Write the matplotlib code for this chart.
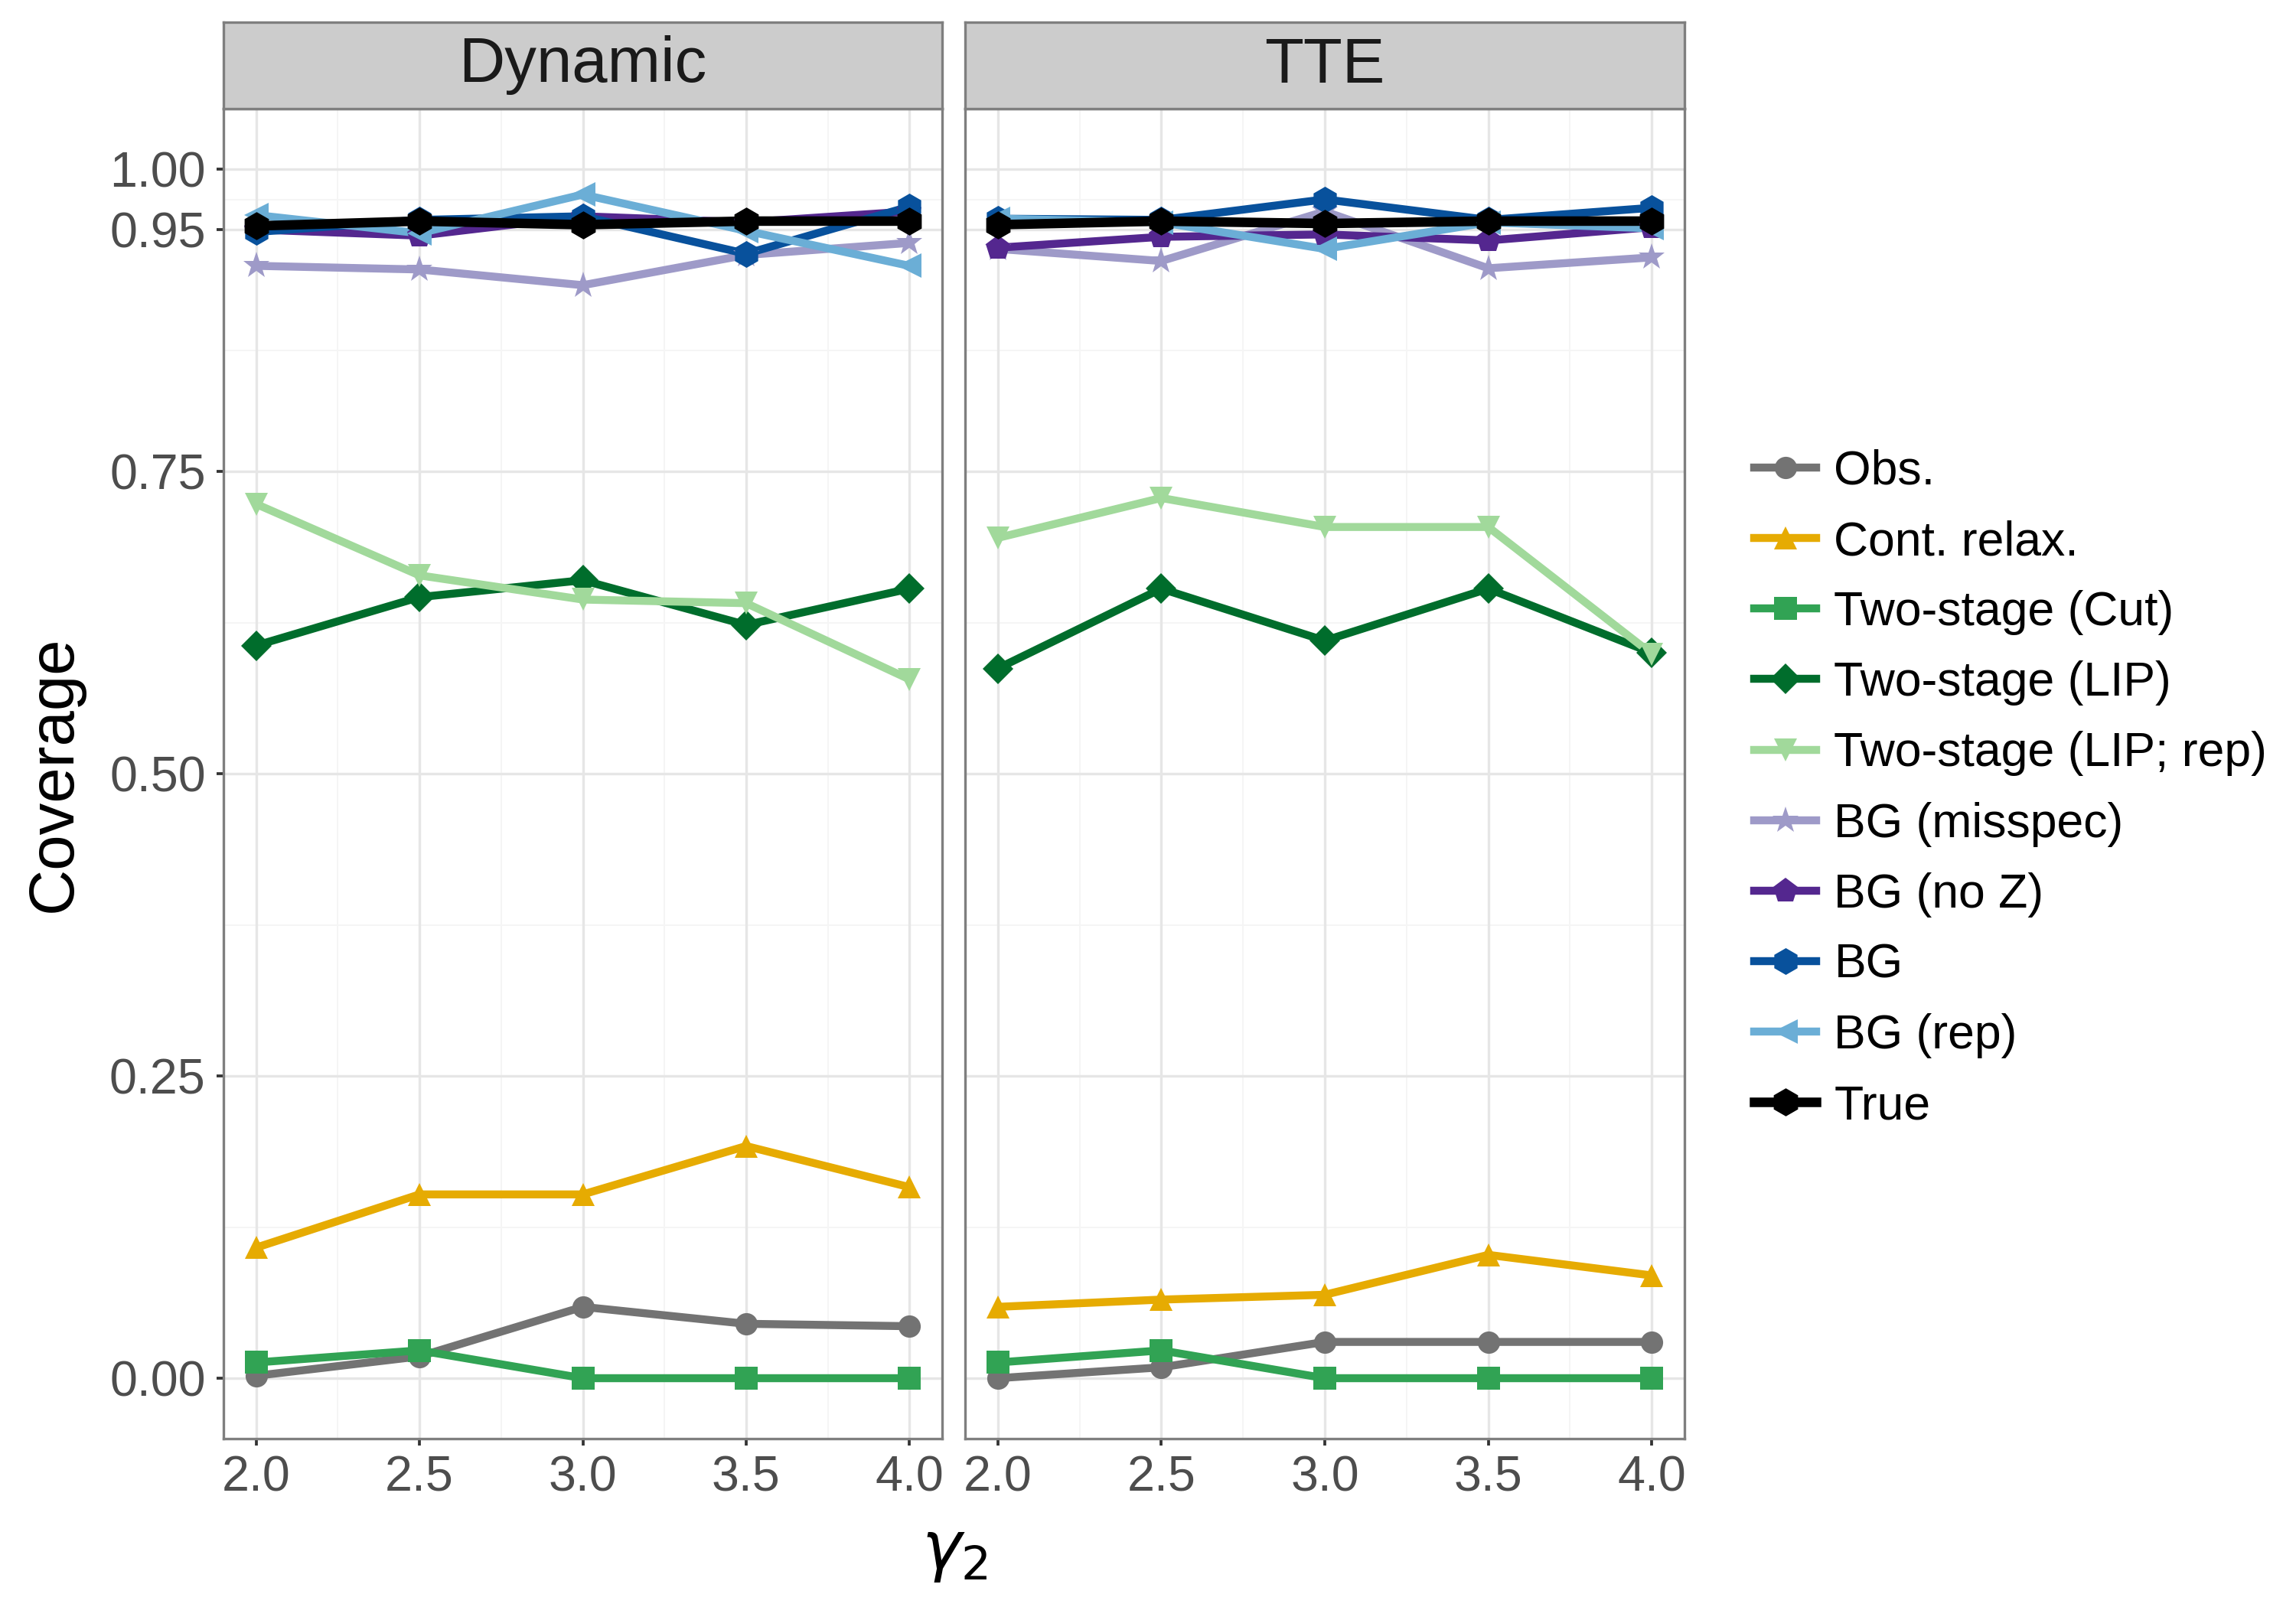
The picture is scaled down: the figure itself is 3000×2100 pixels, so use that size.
import matplotlib
matplotlib.use('Agg')
import matplotlib.pyplot as plt
from matplotlib.lines import Line2D

plt.rcParams['font.family'] = ['Liberation Sans', 'DejaVu Sans']
plt.rcParams['mathtext.fontset'] = 'dejavusans'

# ---------------- data ----------------
gamma2 = [2.0, 2.5, 3.0, 3.5, 4.0]
panels = ["Dynamic", "TTE"]

methods = ["Obs.", "Cont. relax.", "Two-stage (Cut)", "Two-stage (LIP)",
           "Two-stage (LIP; rep)", "BG (misspec)", "BG (no Z)", "BG",
           "BG (rep)", "True"]

obs_dyn      = [0.002, 0.018, 0.059, 0.045, 0.043]
cont_dyn     = [0.108, 0.152, 0.152, 0.192, 0.158]
cut_dyn      = [0.013, 0.023, 0.000, 0.000, 0.000]
lip_dyn      = [0.606, 0.646, 0.660, 0.623, 0.653]
liprep_dyn   = [0.723, 0.664, 0.644, 0.641, 0.578]
misspec_dyn  = [0.920, 0.917, 0.904, 0.929, 0.939]
noz_dyn      = [0.950, 0.945, 0.961, 0.956, 0.965]
bg_dyn       = [0.948, 0.958, 0.961, 0.930, 0.969]
bgrep_dyn    = [0.962, 0.947, 0.979, 0.949, 0.920]
true_dyn     = [0.953, 0.957, 0.954, 0.957, 0.957]

obs_tte      = [0.000, 0.009, 0.030, 0.030, 0.030]
cont_tte     = [0.059, 0.065, 0.069, 0.102, 0.085]
cut_tte      = [0.013, 0.023, 0.000, 0.000, 0.000]
lip_tte      = [0.587, 0.653, 0.610, 0.653, 0.600]
liprep_tte   = [0.695, 0.728, 0.704, 0.704, 0.599]
misspec_tte  = [0.934, 0.924, 0.965, 0.918, 0.927]
noz_tte      = [0.935, 0.944, 0.946, 0.941, 0.952]
bg_tte       = [0.959, 0.958, 0.975, 0.958, 0.968]
bgrep_tte    = [0.959, 0.956, 0.934, 0.956, 0.951]
true_tte     = [0.954, 0.957, 0.955, 0.957, 0.957]

data = {
    "Dynamic": [obs_dyn, cont_dyn, cut_dyn, lip_dyn, liprep_dyn,
                misspec_dyn, noz_dyn, bg_dyn, bgrep_dyn, true_dyn],
    "TTE": [obs_tte, cont_tte, cut_tte, lip_tte, liprep_tte,
            misspec_tte, noz_tte, bg_tte, bgrep_tte, true_tte],
}

y_ticks = [0.0, 0.25, 0.50, 0.75, 0.95, 1.00]
y_ticklabels = ["0.00", "0.25", "0.50", "0.75", "0.95", "1.00"]
y_minor = [0.125, 0.375, 0.625, 0.85, 0.975]
x_ticks = [2.0, 2.5, 3.0, 3.5, 4.0]
x_ticklabels = ["2.0", "2.5", "3.0", "3.5", "4.0"]
x_minor = [2.25, 2.75, 3.25, 3.75]

# ---------------- styles ----------------
colors = ["#737373", "#E6AB02", "#31A354", "#006D2C", "#A1D99B",
          "#9E9AC8", "#54278F", "#08519C", "#6BAED6", "#000000"]
markers = ["o", "^", "s", "D", "v", "*", "p", "h", "<", "h"]
msizes = [7.0, 7.4, 7.0, 6.8, 7.4, 8.8, 8.2, 8.4, 7.6, 8.8]
lwidths = [2.5] * 9 + [3.0]

W, H = 3000, 2100
fig = plt.figure(figsize=(10, 7), dpi=300)


def rect(l, t, r, b):
    return [l / W, 1 - b / H, (r - l) / W, (b - t) / H]


panel_px = [(292, 142, 1231, 1880), (1261, 142, 2201, 1880)]
border_col = "#7F7F7F"

for i, name in enumerate(panels):
    l, t, r, b = panel_px[i]
    ax = fig.add_axes(rect(l, t, r, b))
    ax.set_xlim(1.9, 4.1)
    ax.set_ylim(-0.05, 1.05)
    # grid
    for yv in y_minor:
        ax.axhline(yv, color="#F5F5F5", lw=0.45, zorder=0)
    for xv in x_minor:
        ax.axvline(xv, color="#F5F5F5", lw=0.45, zorder=0)
    for yv in y_ticks:
        ax.axhline(yv, color="#E6E6E6", lw=0.8, zorder=0.5)
    for xv in x_ticks:
        ax.axvline(xv, color="#E6E6E6", lw=0.8, zorder=0.5)
    series = data[name]
    for k in range(len(methods)):
        ax.plot(gamma2, series[k], color=colors[k], lw=lwidths[k],
                solid_joinstyle="round", solid_capstyle="butt", zorder=2 + k * 0.01)
    for k in range(len(methods)):
        ax.plot(gamma2, series[k], linestyle="none", marker=markers[k],
                markersize=msizes[k], color=colors[k], markeredgewidth=0,
                zorder=3 + k * 0.01)
    ax.set_xticks(x_ticks)
    ax.set_xticklabels(x_ticklabels)
    ax.set_yticks(y_ticks)
    if i == 0:
        ax.set_yticklabels(y_ticklabels)
        ax.tick_params(axis="y", length=2.2, width=0.9, color="#333333",
                       labelsize=15.5, labelcolor="#4D4D4D", pad=3.4)
    else:
        ax.tick_params(axis="y", left=False, labelleft=False)
    ax.tick_params(axis="x", length=2.2, width=0.9, color="#333333",
                   labelsize=15.5, labelcolor="#4D4D4D", pad=3.0)
    for s in ax.spines.values():
        s.set_color(border_col)
        s.set_linewidth(0.8)
    # strip
    sax = fig.add_axes(rect(l, 29, r, 142))
    sax.set_facecolor("#CCCCCC")
    sax.set_xticks([])
    sax.set_yticks([])
    for s in sax.spines.values():
        s.set_color(border_col)
        s.set_linewidth(0.8)
    sax.text(0.5, 0.5, name, ha="center", va="center", fontsize=20,
             color="#1A1A1A", transform=sax.transAxes)

fig.text(71 / W, 1 - 1011 / H, "Coverage", rotation=90, ha="center",
         va="center", fontsize=20, color="black")
fig.text(1247 / W, 1 - 2030 / H, r"$\gamma_2$", ha="center", va="center",
         fontsize=21, color="black")

handles = [Line2D([0], [0], color=colors[k], lw=lwidths[k], marker=markers[k],
                  markersize=msizes[k], markeredgewidth=0)
           for k in range(len(methods))]
fig.legend(handles, methods, loc="center left",
           bbox_to_anchor=(2292 / W, 1 - 1031 / H), frameon=False,
           fontsize=15, handlelength=1.3, handletextpad=0.37,
           labelspacing=0.53, borderpad=0, borderaxespad=0)

fig.savefig("out.png", dpi=300)
